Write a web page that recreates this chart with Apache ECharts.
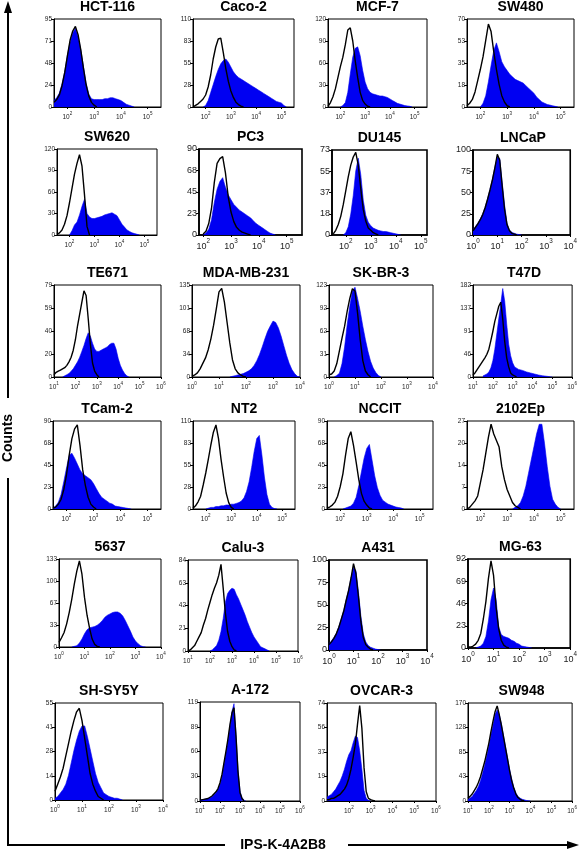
<!DOCTYPE html>
<html><head><meta charset="utf-8">
<script src="https://cdn.jsdelivr.net/npm/echarts@6/dist/echarts.min.js"></script>
<style>html,body{margin:0;padding:0;background:#fff}#c{width:580px;height:852px}</style>
</head><body><div id="c"></div><script>
// ---------- data ----------
const panelNames = ['HCT-116','Caco-2','MCF-7','SW480','SW620','PC3','DU145','LNCaP','TE671','MDA-MB-231','SK-BR-3','T47D','TCam-2','NT2','NCCIT','2102Ep','5637','Calu-3','A431','MG-63','SH-SY5Y','A-172','OVCAR-3','SW948'];
// x axis range in decades (log10 of fluorescence)
const xMins = [1.5,1.5,1.5,1.5, 1.5,1.85,1.45,0, 1,0,0,1, 1.5,1.5,1.5,1.5, 0,1,0,0, 0,1,1,1];
const xMaxs = [5.5,5.5,5.5,5.5, 5.5,5.55,5.25,4, 6,4,4,6, 5.5,5.5,5.5,5.5, 4,6,4,4, 4,6,6,6];
const D25 = [2,3,4,5], D04 = [0,1,2,3,4], D16 = [1,2,3,4,5,6], D26 = [2,3,4,5,6];
const xTickExps = [D25,D25,D25,D25, D25,D25,D25,D04, D16,D04,D04,D16, D25,D25,D25,D25, D04,D16,D04,D04, D04,D16,D26,D16];
const yTickLabels = [
 [0,24,48,71,95],[0,28,55,83,110],[0,30,60,90,120],[0,18,35,53,70],
 [0,30,60,90,120],[0,23,45,68,90],[0,18,37,55,73],[0,25,50,75,100],
 [0,20,40,59,79],[0,34,68,101,135],[0,31,62,92,123],[0,46,91,137,182],
 [0,23,45,68,90],[0,28,55,83,110],[0,23,45,68,90],[0,7,14,20,27],
 [0,33,67,100,133],[0,21,42,63,84],[0,25,50,75,100],[0,23,46,69,92],
 [0,14,28,41,55],[0,30,60,89,119],[0,19,37,56,74],[0,43,85,128,170]];
const binStep = 0.1; // decades between successive histogram values
const stainStart = [1.5,1.9,2.0,2.0, 2.0,2.0,1.9,0, 1.4,1.4,0.2,1.5, 1.5,2.0,2.1,3.2, 0.5,2.0,0,0.3, 0,1.0,1.0,1.0];
const ctrlStart  = [1.5,1.5,1.5,1.5, 1.5,2.0,1.5,0, 1.0,0,0,1.0, 1.5,1.5,1.5,1.5, 0,1.0,0,0, 0,1.0,1.0,1.0];

const stainHCT116 = [7,10,15,25,38,56,70,80,85,76,62,44,26,14,9,8,8,8,8,9,9,10,10,9,8,7,5,3,2,1,0];
const ctrlHCT116  = [5,8,13,23,37,55,72,82,87,78,62,42,24,12,5,2,0];
const stainCaco2 = [0,2,8,18,28,38,47,54,58,60,56,50,44,40,37,35,33,31,29,27,25,23,21,19,17,15,13,11,9,7,6,5,2,0];
const ctrlCaco2  = [0,2,4,7,10,15,25,40,60,75,85,86,68,48,32,20,12,6,3,1,0];
const stainMCF7 = [0,2,6,20,45,68,80,82,70,50,34,25,20,18,17,16,15,15,14,13,11,9,7,5,4,3,2,1.5,1,0];
const ctrlMCF7  = [1,6,14,25,40,55,68,85,105,108,90,63,40,20,9,4,1,0];
const stainSW480 = [0,3,9,20,33,45,51,44,36,32,29,26,24,22,21,20,19,17,15,13,11,8,6,4,3,2,1.5,1,0.5,0];
const ctrlSW480  = [1,3,6,12,21,30,40,53,66,60,44,30,18,9,4,1,0];
const stainSW620 = [0,6,14,18,28,40,50,30,25,23,23,24,25,26,28,29,30,31,29,27,21,15,11,7,5,3,2,1,0];
const ctrlSW620  = [1,3,7,15,27,45,65,85,100,112,96,56,12,0];
const stainPC3 = [0,2,6,16,34,48,56,60,50,42,37,32,29,26,24,22,20,18,15,12,10,8,6,4,2,1,0];
const ctrlPC3  = [1,4,12,28,55,75,80,82,65,40,24,14,8,5,3,2,1,0];
const stainDU145 = [0,2,7,18,34,55,66,52,30,17,11,8,6,5,4,3.5,3,3,2.5,2,1.5,1,0.5,0];
const ctrlDU145  = [1,4,9,16,26,38,50,60,67,71,60,40,22,12,6,4,2,1,0];
const stainLNCaP = [6,10,14,19,25,33,43,54,66,80,92,90,62,35,14,6,3,2,1,0.5,0];
const ctrlLNCaP  = [5,9,13,18,24,32,42,53,65,79,95,88,58,30,12,5,2,1,0];
const stainTE671 = [0,1,2,3,5,7,10,13,17,22,27,33,38,35,29,24,22,22,23,24,25,26,28,29,29,24,16,10,6,3,1,0];
const ctrlTE671  = [2,4,5,6,7,8,10,13,17,23,32,44,54,64,74,70,50,28,12,5,2,0];
const stainMDA = [0,1,2,3,4,5,7,9,12,17,24,33,44,56,67,75,82,80,72,60,46,32,20,11,5,1,0];
const ctrlMDA  = [1,3,6,12,20,28,40,56,76,100,125,130,110,80,50,25,12,6,3,1,0];
const stainSKBR3 = [0,2,5,18,40,70,95,115,120,105,88,68,50,34,21,12,6,2,0];
const ctrlSKBR3  = [3,4,8,18,35,52,68,88,105,118,115,85,50,22,8,3,0];
const stainT47D = [2,4,6,10,18,32,55,85,115,145,175,150,105,65,42,28,20,17,15,14,13,11,10,9,8,7,6,5,4,3,2.5,2,1.5,1,0.5,0];
const ctrlT47D  = [4,8,14,20,26,32,38,45,55,72,90,110,125,140,148,115,70,38,20,8,4,1,0];
const stainTCam2 = [1,3,7,15,28,42,55,57,52,46,40,36,34,32,30,26,21,16,12,10,8,6,5,3,2.5,2,1.5,1,0.5,0];
const ctrlTCam2  = [1,2,5,10,20,35,55,72,82,86,65,40,24,12,5,2,0];
const stainNT2 = [0,1,2,2,3,3,4,4,5,5,6,6,7,8,10,14,22,34,52,72,88,92,68,40,18,6,2,0.5,0];
const ctrlNT2  = [1,4,9,16,30,45,62,80,96,105,88,62,40,20,8,2,0];
const stainNCCIT = [0,1,2,3,6,12,24,38,52,62,66,50,34,22,14,9,7,5,4,3,2,1.5,1,0];
const ctrlNCCIT  = [1,2,4,7,13,23,36,55,72,79,65,48,30,16,8,4,1,0];
const stain2102Ep = [0,0.5,1,2,4,7,11,15,19,23,26,26,20,13,7,3,1.5,0.5,0];
const ctrl2102Ep  = [0,0.5,1.5,2.5,4,8,12,17,22,26,23,21,19,13,9,6,4,2,1,0.5,0];
const stain5637 = [0,1,2,6,12,20,26,29,30,31,33,36,40,45,48,50,52,53,53,51,47,40,32,24,15,9,5,2,0.5,0];
const ctrl5637  = [7,14,22,35,52,72,95,115,130,110,75,48,28,12,4,1,0];
const stainCalu3 = [0,1,3,5,10,18,30,45,53,56,58,57,52,48,43,38,33,27,22,17,13,10,7,4,3,2,1,0];
const ctrlCalu3  = [0,1,3,5,9,13,17,24,30,38,45,52,58,63,70,80,58,35,18,9,4,1,0];
const stainA431 = [7,10,14,19,26,35,44,56,67,80,92,88,65,38,18,9,5,3,2,1,0.5,0];
const ctrlA431  = [6,9,13,18,25,34,43,55,66,80,96,85,60,32,14,6,3,1,0];
const stainMG63 = [0,1,2,5,12,28,50,62,50,22,14,12,11,10,8,7,5,4,2,1.5,1,0.5,0];
const ctrlMG63  = [1,1,2,4,8,15,30,48,72,90,75,42,20,8,3,1,0];
const stainSHSY5Y = [1,2,4,6,9,14,21,28,34,39,42,42,36,29,22,15,10,7,4,3,2,1.5,1,1,0.5,0];
const ctrlSHSY5Y  = [5,9,13,18,25,32,39,45,50,52,45,35,25,15,9,5,2,1,0];
const stainA172 = [1,1,2,2,3,4,5,7,10,14,20,30,44,58,73,90,108,117,80,38,12,4,1,0];
const ctrlA172  = [1,1,2,3,3,4,6,8,11,15,22,32,46,60,75,92,106,112,78,35,10,3,0];
const stainOVCAR3 = [3,4,5,7,9,12,15,19,24,30,35,38,44,49,48,38,24,8,2,0.5,0];
const ctrlOVCAR3  = [1,1,2,2,3,4,5,7,9,12,17,24,33,43,58,72,55,25,7,2,1,0.5,0];
const stainSW948 = [3,5,8,13,18,25,35,48,62,78,95,115,132,150,158,150,135,115,95,75,55,38,24,14,8,5,3,2,1,0.5,0];
const ctrlSW948  = [5,8,12,18,24,32,42,55,68,84,100,120,138,155,165,150,132,112,92,72,52,35,22,12,6,3,1,0];

const xAxisTitle = 'IPS-K-4A2B8';
const yAxisTitle = 'Counts';

// ---------- layout (pixel boxes: left, top, right, bottom) ----------
const boxes = [
 [54,19,161,107],[193,19,294,107],[328,19,427,107],[467,19,574,107],
 [57,149,157,235],[199,149,302,235],[332,150,427,235],[473,150,573,235],
 [54,285,161,377],[192,285,300,377],[329,285,433,377],[473,285,575,377],
 [53,421,161,509],[193,421,295,509],[327,421,433,509],[467,421,574,509],
 [59,559,161,647],[188,560,298,651],[329,560,427,650],[468,559,573,648],
 [55,703,163,800],[200,702,300,801],[327,703,436,801],[468,703,575,801]];
const bigLabels = [5,6,7,18,19];

const stainSets = [stainHCT116,stainCaco2,stainMCF7,stainSW480,stainSW620,stainPC3,stainDU145,stainLNCaP,stainTE671,stainMDA,stainSKBR3,stainT47D,stainTCam2,stainNT2,stainNCCIT,stain2102Ep,stain5637,stainCalu3,stainA431,stainMG63,stainSHSY5Y,stainA172,stainOVCAR3,stainSW948];
const ctrlSets = [ctrlHCT116,ctrlCaco2,ctrlMCF7,ctrlSW480,ctrlSW620,ctrlPC3,ctrlDU145,ctrlLNCaP,ctrlTE671,ctrlMDA,ctrlSKBR3,ctrlT47D,ctrlTCam2,ctrlNT2,ctrlNCCIT,ctrl2102Ep,ctrl5637,ctrlCalu3,ctrlA431,ctrlMG63,ctrlSHSY5Y,ctrlA172,ctrlOVCAR3,ctrlSW948];

function toPairs(start, vals){ return vals.map((v,k)=>[+(start + k*binStep).toFixed(3), v]); }

const FF = '"Liberation Sans", Arial, Helvetica, sans-serif';
const BLUE = '#0000f2';
const option = {animation:false, backgroundColor:'#fff', grid:[], xAxis:[], yAxis:[], series:[], graphic:[]};

panelNames.forEach((name,i)=>{
  const [l,t,r,b] = boxes[i];
  const big = bigLabels.includes(i);
  const fs = big ? 9 : 6.5;
  const yl = yTickLabels[i];
  const ymax = yl[yl.length-1];
  const yVals = yl.map((_,k)=>ymax*k/(yl.length-1));
  option.grid.push({left:l, top:t, width:r-l, height:b-t, show:true, borderColor:'#000', borderWidth: big?1.6:1, backgroundColor:'#fff'});
  option.xAxis.push({type:'value', gridIndex:i, min:xMins[i], max:xMaxs[i], splitLine:{show:false},
    axisLine:{show:true, onZero:false, lineStyle:{color:'#000', width: big?1.6:1}},
    axisTick:{show:true, length:2, customValues:xTickExps[i], lineStyle:{color:'#000'}},
    axisLabel:{customValues:xTickExps[i], margin: big?3:4, showMinLabel:true, showMaxLabel:true,
      formatter: v => '{b|10}{s|' + Math.round(v) + '}',
      rich:{b:{fontSize:fs, fontFamily:FF, color:'#222', lineHeight:fs*1.5, verticalAlign:'bottom'},
            s:{fontSize:fs*0.7, fontFamily:FF, color:'#222', lineHeight:fs*0.8, verticalAlign:'top'}}}});
  option.yAxis.push({type:'value', gridIndex:i, min:0, max:ymax, splitLine:{show:false},
    axisLine:{show:true, lineStyle:{color:'#000', width: big?1.6:1}},
    axisTick:{show:true, length:3, customValues:yVals, lineStyle:{color:'#000'}},
    axisLabel:{customValues:yVals, margin:2, fontSize:fs, fontFamily:FF, color:'#222', showMinLabel:true, showMaxLabel:true,
      formatter: v => String(yl[Math.round(v/(ymax/(yl.length-1)))])}});
  option.series.push({type:'line', xAxisIndex:i, yAxisIndex:i, data:toPairs(stainStart[i], stainSets[i]), symbol:'none', silent:true, z:2,
    lineStyle:{color:BLUE, width:0.6}, areaStyle:{color:BLUE, opacity:1}});
  option.series.push({type:'line', xAxisIndex:i, yAxisIndex:i, data:toPairs(ctrlStart[i], ctrlSets[i]), symbol:'none', silent:true, z:3,
    lineStyle:{color:'#000', width:1.4}});
  option.graphic.push({type:'text', x:(l+r)/2, y:t-12, silent:true,
    style:{text:name, fill:'#000', font:'bold 14px ' + FF, fontSize:14, fontWeight:'bold', fontFamily:FF,
      align:'center', verticalAlign:'middle', textAlign:'center', textVerticalAlign:'middle'}});
});

// frame arrows & axis titles
const lineSt = {stroke:'#000', lineWidth:2};
option.graphic.push(
  {type:'line', silent:true, shape:{x1:8,y1:10,x2:8,y2:398}, style:lineSt},
  {type:'line', silent:true, shape:{x1:8,y1:478,x2:8,y2:845}, style:lineSt},
  {type:'line', silent:true, shape:{x1:7,y1:845,x2:225,y2:845}, style:lineSt},
  {type:'line', silent:true, shape:{x1:348,y1:845,x2:572,y2:845}, style:lineSt},
  {type:'polygon', silent:true, shape:{points:[[8,1],[4,13],[12,13]]}, style:{fill:'#000'}},
  {type:'polygon', silent:true, shape:{points:[[579,845],[567,841],[567,849]]}, style:{fill:'#000'}},
  {type:'text', silent:true, x:283, y:845, style:{text:xAxisTitle, fill:'#000', fontSize:14, fontWeight:'bold', fontFamily:FF,
      font:'bold 14px ' + FF, align:'center', verticalAlign:'middle', textAlign:'center', textVerticalAlign:'middle'}},
  {type:'text', silent:true, x:8, y:438, rotation:Math.PI/2, style:{text:yAxisTitle, fill:'#000', fontSize:14, fontWeight:'bold', fontFamily:FF,
      font:'bold 14px ' + FF, align:'center', verticalAlign:'middle', textAlign:'center', textVerticalAlign:'middle'}}
);

const chart = echarts.init(document.getElementById('c'), null, {renderer:'canvas'});
chart.setOption(option);
</script></body></html>
